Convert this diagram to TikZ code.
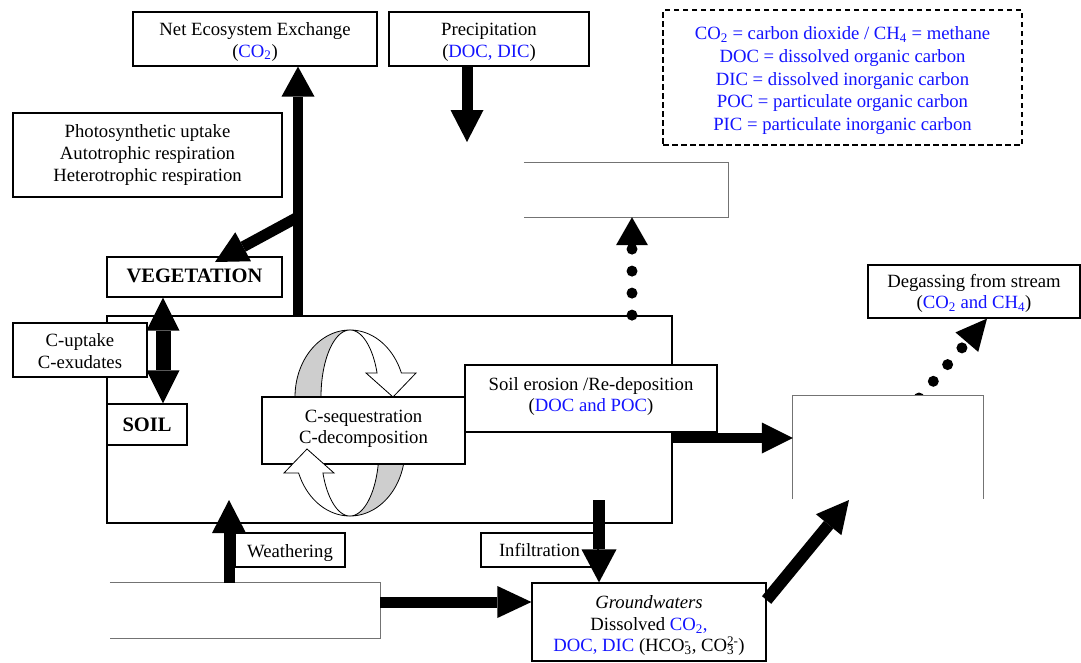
\documentclass[tikz,border=0pt]{standalone}
\usepackage{fontspec}
\setmainfont{Liberation Serif}
\usetikzlibrary{arrows.meta,calc}
\definecolor{lblue}{RGB}{20,20,255}
\definecolor{ribgrey}{RGB}{206,206,206}
\newcommand\bl[1]{\textcolor{lblue}{#1}}
\newcommand\sbs[1]{\textsubscript{#1}}
\newcommand\ionss[2]{\setbox0\hbox{\textsubscript{#1}}\setbox2\hbox{\textsuperscript{#2}}\ifdim\wd0>\wd2 \rlap{\box2}\box0\else\rlap{\box0}\box2\fi}
% text lines, lowered by #1 without changing the box size
\newcommand\tl[2][3pt]{\raisebox{-#1}[\height][\depth]{\begin{tabular}{@{}c@{}}#2\end{tabular}}}
\tikzset{
  box/.style={draw, line width=1.2pt, fill=white, align=center, inner sep=0pt},
  thinbox/.style={draw=black!55, line width=1pt},
  ribbon/.style={draw, line width=0.8pt},
  dotline/.style={line width=11pt, line cap=round, dash pattern=on 0pt off 22pt},
}
\begin{document}
\begin{tikzpicture}[x=1pt,y=-1pt, every node/.style={font=\fontsize{18.7}{21.5}\selectfont, inner sep=0pt, align=center}]
\useasboundingbox (0,0) rectangle (1081,662);
\fill[white] (0,0) rectangle (1081,662);

% ---------- soil compartment ----------
\node[box, line width=1.8pt, minimum width=565, minimum height=207] (soilbig) at (389.5,419.5) {};

% grey (back) parts of the two ribbons
\filldraw[ribbon, fill=ribgrey] plot[domain=180:90,samples=40] ({350+55*cos(\x)},{397-67*sin(\x)}) -- plot[domain=90:180,samples=40] ({350+29*cos(\x)},{397-67*sin(\x)}) -- cycle;
\begin{scope}[rotate around={180:(350,423)}]
\filldraw[ribbon, fill=ribgrey] plot[domain=180:90,samples=40] ({350+55*cos(\x)},{397-67*sin(\x)}) -- plot[domain=90:180,samples=40] ({350+29*cos(\x)},{397-67*sin(\x)}) -- cycle;
\end{scope}

\node[box, minimum width=203, minimum height=67] (cseq) at (363.5,430.5) {\tl[-2pt]{C-sequestration\\C-decomposition}};
\node[box, minimum width=252, minimum height=67] (erosion) at (591,398.5) {\tl[-2pt]{Soil erosion /Re-deposition\\(\bl{DOC and POC})}};
\node[box, minimum width=80, minimum height=41] (soilbox) at (147,424.5) {\fontsize{20.5}{22}\selectfont\bfseries SOIL};
\node[box, minimum width=134, minimum height=54] (cuptake) at (80,350) {\tl{C-uptake\\C-exudates}};

% white (front) parts of the ribbons with hollow heads
\filldraw[ribbon, fill=white] plot[domain=90:21,samples=40] ({350+55*cos(\x)},{397-67*sin(\x)}) -- (416,373) -- (393,397) -- (366,373) -- plot[domain=21:90,samples=40] ({350+29*cos(\x)},{397-67*sin(\x)}) -- cycle;
\begin{scope}[rotate around={180:(350,423)}]
\filldraw[ribbon, fill=white] plot[domain=90:21,samples=40] ({350+55*cos(\x)},{397-67*sin(\x)}) -- (416,373) -- (393,397) -- (366,373) -- plot[domain=21:90,samples=40] ({350+29*cos(\x)},{397-67*sin(\x)}) -- cycle;
\end{scope}

% ---------- other boxes ----------
\node[box, minimum width=244, minimum height=54] (nee) at (255,39) {\tl{Net Ecosystem Exchange\\(\bl{CO\sbs{2}})}};
\node[box, minimum width=200, minimum height=54] (precip) at (489,39) {\tl{Precipitation\\(\bl{DOC, DIC})}};
\node[draw, line width=1.5pt, dash pattern=on 5.5pt off 3.5pt, minimum width=359, minimum height=135, font=\fontsize{18.7}{22.75}\selectfont, text=lblue] (legend) at (842.5,77.5)
  {\tl{CO\sbs{2} = carbon dioxide / CH\sbs{4} = methane\\DOC = dissolved organic carbon\\DIC = dissolved inorganic carbon\\POC = particulate organic carbon\\PIC = particulate inorganic carbon}};
\node[box, minimum width=269, minimum height=84, font=\fontsize{18.7}{22}\selectfont] (photo) at (147.5,155) {Photosynthetic uptake\\Autotrophic respiration\\Heterotrophic respiration};
\node[box, minimum width=175, minimum height=40] (veg) at (194.5,277) {\tl[1pt]{\fontsize{20.5}{22}\selectfont\bfseries VEGETATION}};
\node[box, minimum width=212, minimum height=53] (degas) at (974,291.5) {\tl[2pt]{Degassing from stream\\(\bl{CO\sbs{2} and CH\sbs{4}})}};
\node[box, minimum width=110, minimum height=34] (weather) at (290,550) {\tl{Weathering}};
\node[box, minimum width=117, minimum height=34] (infil) at (539.5,550) {\tl[2pt]{Infiltration}};
\node[box, minimum width=234, minimum height=78] (gw) at (649,622) {\tl[4pt]{\textit{Groundwaters}\\Dissolved \bl{CO\sbs{2},}\\\bl{DOC, DIC} (HCO\ionss{3}{-}, CO\ionss{3}{2-})}};

% open (empty) boxes
\node[minimum width=204, minimum height=54] (etop) at (626,190) {};
\draw[thinbox] (etop.north west) -- (etop.north east) -- (etop.south east) -- (etop.south west);
\node[minimum width=270, minimum height=55] (rock) at (245,610.5) {};
\draw[thinbox] (rock.north west) -- (rock.north east) -- (rock.south east) -- (rock.south west);

% ---------- connectors ----------
\coordinate (xa) at (298,0);
\coordinate (br) at (298,217);
\coordinate (vegin) at (215,262);
\coordinate (xp) at (467,0);
\coordinate (ptip) at (467,142);
\coordinate (xd) at (632,0);
\coordinate (ye) at (0,438);
\coordinate (xv) at (163,0);
\coordinate (xw) at (229,0);
\coordinate (wtip) at (229,500);
\coordinate (xi) at (599,0);
\coordinate (istart) at (599,500);
\coordinate (yr) at (0,602);
\coordinate (gwout) at (0,600);
\coordinate (gwtip) at (849,500);
\coordinate (dstart) at (919,398);
\coordinate (xg) at (987,0);

% NEE exchange
\draw[line width=10pt, -{Triangle[width=33pt,length=30pt,line width=0pt]}] (soilbig.north -| xa) -- (nee.south -| xa);
\draw[line width=11pt, -{Triangle[width=33pt,length=32pt,line width=0pt]}] (br) -- (vegin);
% precipitation
\draw[line width=11pt, -{Triangle[width=33pt,length=32pt,line width=0pt]}] (precip.south -| xp) -- (ptip);
% dotted up
\draw[dotline, -{Triangle[width=32pt,length=28pt,line width=0pt]}] (soilbig.north -| xd) -- (etop.south -| xd);
% vegetation <-> soil
\draw[line width=15pt, {Triangle[width=33pt,length=33pt,line width=0pt]}-{Triangle[width=33pt,length=33pt,line width=0pt]}] (veg.south -| xv) -- (soilbox.north -| xv);
% weathering
\draw[line width=11pt, -{Triangle[width=34pt,length=33pt,line width=0pt]}] (rock.north -| xw) -- (wtip);
% infiltration
\draw[line width=12pt, -{Triangle[width=35pt,length=33pt,line width=0pt]}] (istart) -- (gw.north -| xi);
% rock -> groundwater
\draw[line width=11pt, -{Triangle[width=32pt,length=34pt,line width=0pt]}] (rock.east |- yr) -- (gw.west |- yr);
% degassing dotted
\draw[dotline, -{Triangle[width=30pt,length=31pt,line width=0pt]}] (dstart) -- (degas.south -| xg);

% right open box (stream) drawn over the first dot
\node[minimum width=190, minimum height=103] (er) at (888,447.5) {};
\fill[white] (er.north west) rectangle (er.south east);
\draw[thinbox] (er.south west) -- (er.north west) -- (er.north east) -- (er.south east);

% erosion -> stream
\draw[line width=10pt, -{Triangle[width=31pt,length=31pt,line width=0pt]}] (soilbig.east |- ye) -- (er.west |- ye);
% groundwater -> stream
\draw[line width=12pt, -{Triangle[width=33pt,length=32pt,line width=0pt]}] (gw.east |- gwout) -- (gwtip);
\end{tikzpicture}
\end{document}
